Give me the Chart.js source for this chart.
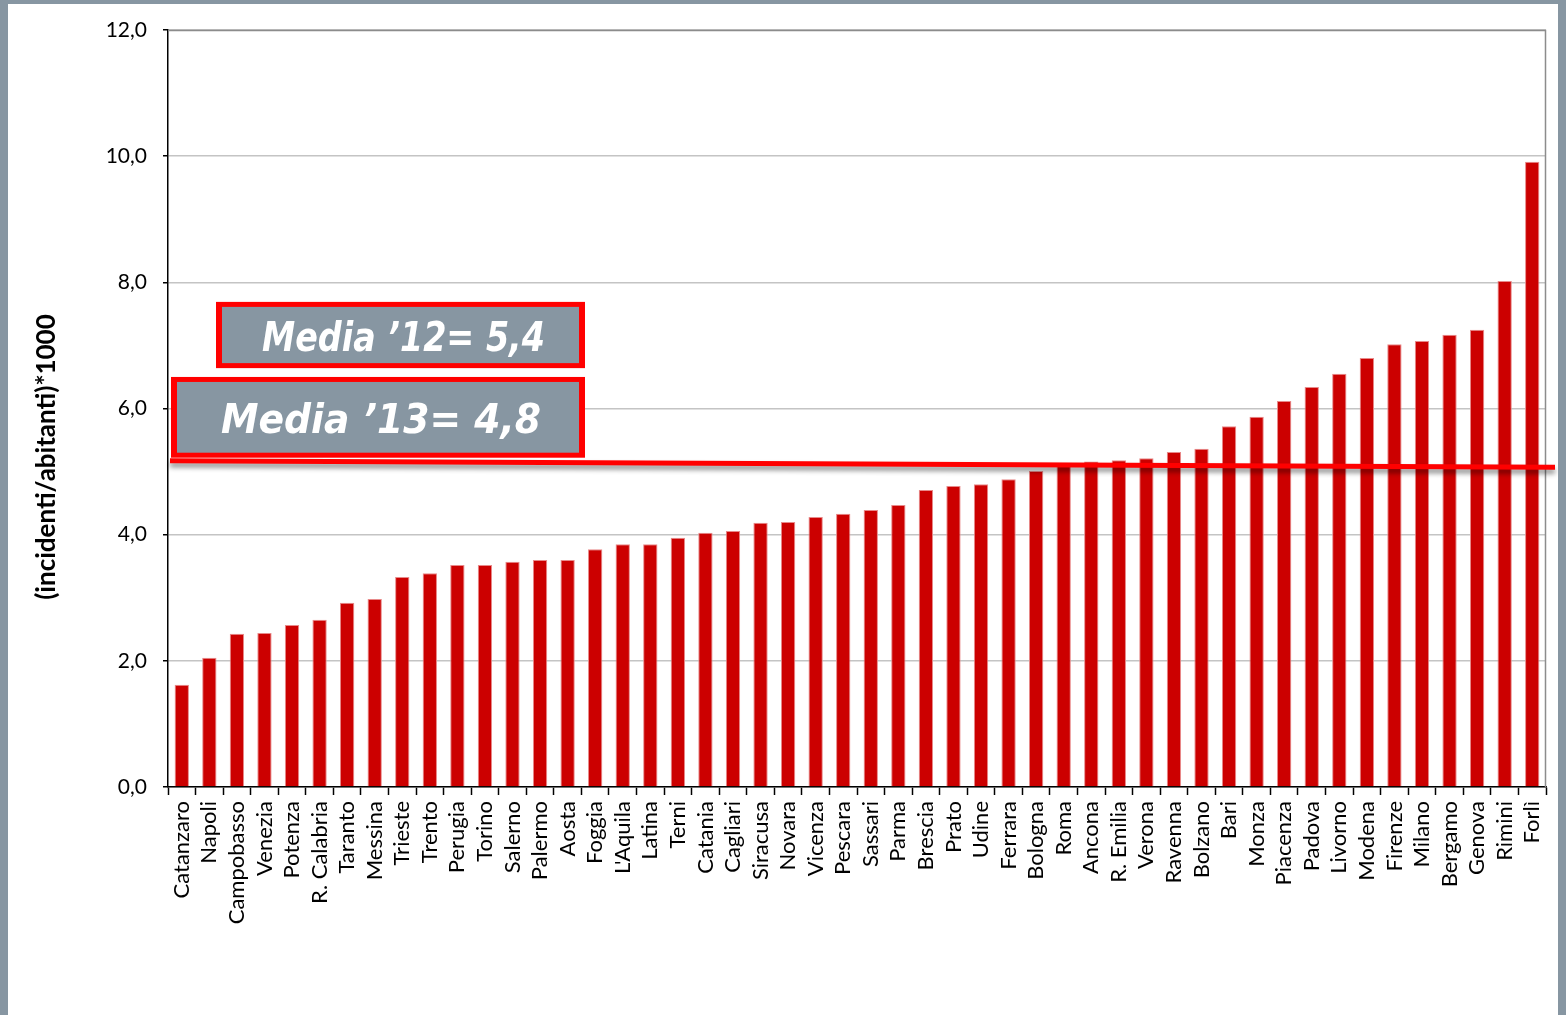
<!DOCTYPE html>
<html>
<head>
<meta charset="utf-8">
<script src="https://cdn.jsdelivr.net/npm/chart.js@4"></script>
<style>
  html, body { margin:0; padding:0; }
  body { background:#8796a2; width:1566px; height:1015px; overflow:hidden; }
  #wrap { position:absolute; left:8px; top:4px; width:1550px; height:1011px; background:#fff; }
</style>
</head>
<body>
<div id="wrap"><canvas id="chart" width="1550" height="1011"></canvas></div>
<script>
/* DATI */

const cities = [
  "Catanzaro","Napoli","Campobasso","Venezia","Potenza","R. Calabria","Taranto","Messina",
  "Trieste","Trento","Perugia","Torino","Salerno","Palermo","Aosta","Foggia","L'Aquila",
  "Latina","Terni","Catania","Cagliari","Siracusa","Novara","Vicenza","Pescara","Sassari",
  "Parma","Brescia","Prato","Udine","Ferrara","Bologna","Roma","Ancona","R. Emilia",
  "Verona","Ravenna","Bolzano","Bari","Monza","Piacenza","Padova","Livorno","Modena",
  "Firenze","Milano","Bergamo","Genova","Rimini","Forlì"
];

const rates = [
  1.62, 2.05, 2.43, 2.44, 2.57, 2.65, 2.92, 2.98,
  3.33, 3.39, 3.52, 3.52, 3.57, 3.60, 3.60, 3.77, 3.85,
  3.85, 3.95, 4.03, 4.06, 4.19, 4.20, 4.28, 4.33, 4.39,
  4.47, 4.71, 4.77, 4.80, 4.88, 5.01, 5.10, 5.16, 5.18,
  5.21, 5.31, 5.36, 5.72, 5.87, 6.12, 6.34, 6.55, 6.80,
  7.02, 7.07, 7.17, 7.25, 8.02, 9.91
];

const yTicks = [0, 2, 4, 6, 8, 10, 12];

const mediaLabels = ["Media \u201912= 5,4", "Media \u201913= 4,8"];

// linea rossa disegnata sopra le barre (valore a sinistra, valore a destra)
const mediaLine = [5.17, 5.07];

const yTitle = "(incidenti/abitanti)*1000";

/* PLUGIN */

const overlay = {
  id: "overlay",

  beforeDatasetsDraw(chart){
    const {ctx, chartArea:a} = chart;
    ctx.save();
    ctx.strokeStyle = "#8c8c8c";
    ctx.lineWidth = 1.5;
    ctx.beginPath();
    ctx.moveTo(a.left, a.top + 0.5);
    ctx.lineTo(a.right - 0.5, a.top + 0.5);
    ctx.lineTo(a.right - 0.5, a.bottom);
    ctx.stroke();
    ctx.restore();
  },

  afterDraw(chart){
    const {ctx, chartArea:a, scales} = chart;
    const y = scales.y;

    // titolo asse y
    ctx.save();
    ctx.translate(39, 453);
    ctx.rotate(-Math.PI/2);
    ctx.font = "bold 26px Lato";
    ctx.fillStyle = "#000";
    ctx.textAlign = "center";
    ctx.textBaseline = "middle";
    ctx.fillText(yTitle, 0, 0);
    ctx.restore();

    // linea media
    ctx.save();
    ctx.strokeStyle = "#ff0000";
    ctx.lineWidth = 5;
    ctx.shadowColor = "rgba(0,0,0,0.45)";
    ctx.shadowBlur = 5;
    ctx.shadowOffsetY = 4;
    ctx.beginPath();
    ctx.moveTo(a.left + 2, y.getPixelForValue(mediaLine[0]));
    ctx.lineTo(a.right + 9, y.getPixelForValue(mediaLine[1]));
    ctx.stroke();
    ctx.restore();

    // riquadri
    const boxes = [
      {x1:a.left + 48, x2:a.left + 417, top:y.getPixelForValue(7.69), bottom:y.getPixelForValue(6.64), w:283},
      {x1:a.left + 3,  x2:a.left + 417, top:y.getPixelForValue(6.50), bottom:y.getPixelForValue(5.22), w:320}
    ];

    boxes.forEach((b, i) => {
      ctx.save();
      ctx.fillStyle = "#ff0000";
      ctx.fillRect(b.x1, b.top, b.x2 - b.x1, b.bottom - b.top);
      ctx.fillStyle = "#8796a2";
      ctx.fillRect(b.x1 + 6, b.top + 5, b.x2 - b.x1 - 12, b.bottom - b.top - 10);

      ctx.font = "italic bold 40px 'DejaVu Sans'";
      const m = ctx.measureText(mediaLabels[i]).width;
      const sx = b.w / m;
      const cx = (b.x1 + b.x2) / 2 + 3;
      const cy = (b.top + b.bottom) / 2 + 1;
      ctx.translate(cx, cy + 14.5);
      ctx.scale(sx, 1);
      ctx.fillStyle = "#ffffff";
      ctx.textAlign = "center";
      ctx.textBaseline = "alphabetic";
      ctx.fillText(mediaLabels[i], 0, 0);
      ctx.restore();
    });
  }
};

/* GRAFICO */

const ctx = document.getElementById("chart");

new Chart(ctx, {
  type: "bar",
  data: {
    labels: cities,
    datasets: [{
      data: rates,
      backgroundColor: "#cc0000",
      borderColor: "#e88a8a",
      borderWidth: {left:1, right:1, top:1, bottom:0},
      categoryPercentage: 1,
      barPercentage: 0.52
    }]
  },
  options: {
    responsive: false,
    animation: false,
    events: [],
    layout: { padding: { top: 26, right: 12, left: 0, bottom: 0 } },
    plugins: {
      legend: { display: false },
      tooltip: { enabled: false }
    },
    scales: {
      x: {
        afterFit(scale){
          scale.height = 228;
          scale.paddingLeft = 0;
          scale.paddingRight = 0;
        },
        grid: {
          offset: true,
          drawOnChartArea: false,
          drawTicks: true,
          tickLength: 8,
          tickColor: "#000",
          tickWidth: 1.5
        },
        border: { color: "#000", width: 1.5 },
        ticks: {
          autoSkip: false,
          maxRotation: 90,
          minRotation: 90,
          padding: 6,
          color: "#000",
          font: { family: "Lato", size: 22 }
        }
      },
      y: {
        min: 0,
        max: 12,
        afterFit(scale){
          scale.width = 160;
          scale.paddingTop = 0;
          scale.paddingBottom = 0;
        },
        afterBuildTicks(scale){
          scale.ticks = yTicks.map(v => ({value: v}));
        },
        grid: {
          color: "#c4c4c4",
          lineWidth: 1.5,
          tickLength: 5,
          tickColor: "#000"
        },
        border: { color: "#000", width: 1.5 },
        ticks: {
          padding: 16,
          color: "#000",
          font: { family: "Lato", size: 21 },
          callback: v => v.toFixed(1).replace(".", ",")
        }
      }
    }
  },
  plugins: [overlay]
});
</script>
</body>
</html>
